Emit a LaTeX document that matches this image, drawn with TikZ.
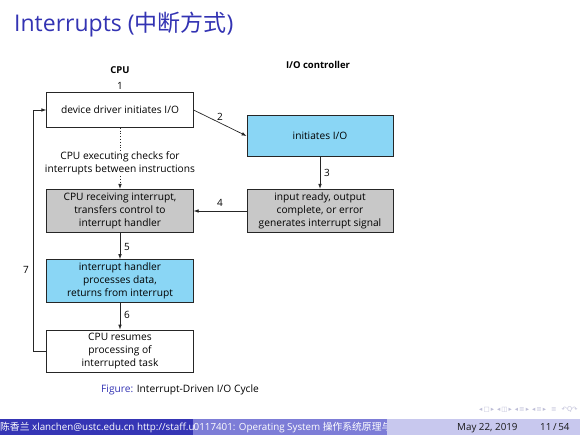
\documentclass[tikz,border=0pt]{standalone}
\usepackage{fontspec}
\setmainfont{Open Sans}
\newfontfamily\cjk{Noto Sans CJK SC}
\newfontfamily\dejavu{DejaVu Sans}
\usetikzlibrary{arrows.meta}
\definecolor{structblue}{RGB}{51,51,179}
\definecolor{boxblue}{RGB}{138,214,245}
\definecolor{boxgray}{RGB}{200,200,200}
\definecolor{footdark}{RGB}{53,53,181}
\definecolor{footmid}{RGB}{125,125,215}
\definecolor{footlight}{RGB}{200,200,238}
\definecolor{navgray}{RGB}{190,190,215}
\begin{document}
\begin{tikzpicture}[x=1pt,y=-1pt,
  flow/.style={draw=black!85, line width=0.7pt, minimum width=146.5pt, inner sep=0pt, align=center, font=\fontsize{10.2}{13}\selectfont},
  arr/.style={-{Latex[length=5pt,width=3.6pt]}, line width=0.7pt, black!85},
  lbl/.style={font=\fontsize{10}{12}\selectfont, inner sep=0pt},
  head/.style={font=\bfseries\fontsize{9.5}{11}\selectfont, inner sep=0pt},
  foot/.style={anchor=base west, font=\fontsize{9.8}{11}\selectfont, inner sep=0pt}]
\useasboundingbox (0,0) rectangle (580,435);
% title
\node[anchor=base west, text=structblue, font=\fontsize{23}{26}\selectfont, inner sep=0pt] (title) at (14,32) {Interrupts ({\cjk 中断方式})};
% headers
\node[head] (hcpu) at (120,70) {CPU};
\node[lbl] (h1) at (120,86) {1};
\node[head] (hio) at (318,65) {I/O controller};
% boxes
\node[flow, minimum height=35pt] (b1) at (120,110) {device driver initiates I/O};
\node[flow, fill=boxblue, minimum height=41.5pt, minimum width=146pt] (b2) at (320,136) {initiates I/O};
\node[flow, fill=boxgray, minimum height=43.5pt] (b3) at (120,211) {CPU receiving interrupt,\\transfers control to\\interrupt handler};
\node[flow, fill=boxgray, minimum height=43.5pt, minimum width=146pt] (b4) at (320,211) {input ready, output\\complete, or error\\generates interrupt signal};
\node[flow, fill=boxblue, minimum height=43pt] (b5) at (120,281) {interrupt handler\\processes data,\\returns from interrupt};
\node[flow, minimum height=42pt] (b6) at (120,351) {CPU resumes\\processing of\\interrupted task};
\node[font=\fontsize{10.2}{13}\selectfont, align=center, inner sep=1pt] (chk) at (120,163.5) {CPU executing checks for\\interrupts between instructions};
% connectors
\draw[dotted, line width=0.8pt, black!85] (b1.south) -- (chk.north);
\draw[arr, dotted] (chk.south) -- (b3.north);
\draw[arr] (b1.east) -- (b2.west);
\draw[arr] (b2) -- (b4);
\draw[arr] (b4) -- (b3);
\draw[arr] (b3) -- (b5);
\draw[arr] (b5) -- (b6);
\draw[arr] (b6.west) -- ++(-13.3,0) coordinate (lp) |- (b1.west);
% labels
\node[lbl] (l2) at (220,117) {2};
\node[lbl] (l3) at (327,173) {3};
\node[lbl] (l4) at (220,203) {4};
\node[lbl] (l5) at (127,247) {5};
\node[lbl] (l6) at (127,315) {6};
\node[lbl] (l7) at (26,270) {7};
% caption
\node[anchor=west, font=\fontsize{10.2}{12}\selectfont, inner sep=0pt] (cap) at (101,390) {\textcolor{structblue}{Figure:} Interrupt-Driven I/O Cycle};
% nav symbols
\node[anchor=west, text=navgray, font=\dejavu\fontsize{6.5}{8}\selectfont, inner sep=0pt] (nav) at (479,410) {◂\,□\,▸\hspace{3pt}◂\,◫\,▸\hspace{3pt}◂\,≡\,▸\hspace{3pt}◂\,≡\,▸\hspace{5pt}≡\hspace{5pt}↶Q↷};
% footer
\fill[footdark] (0,419) rectangle (193.33,435);
\fill[footmid] (193.33,419) rectangle (386.67,435);
\fill[footlight] (386.67,419) rectangle (580,435);
\begin{scope}
\clip (0,419) rectangle (193.33,435);
\node[foot, text=white] (fa) at (0,430) {{\cjk 陈香兰} xlanchen@ustc.edu.cn http://staff.u};
\end{scope}
\begin{scope}
\clip (193.33,419) rectangle (386.67,435);
\node[foot, text=white] (fb) at (193.5,430) {0117401: Operating System {\cjk 操作系统原理与}};
\end{scope}
\node[foot, text=black!90] (fc) at (457,430) {May 22, 2019};
\node[foot, text=black!90] (fd) at (540,430) {11\,/\,54};
\end{tikzpicture}
\end{document}
